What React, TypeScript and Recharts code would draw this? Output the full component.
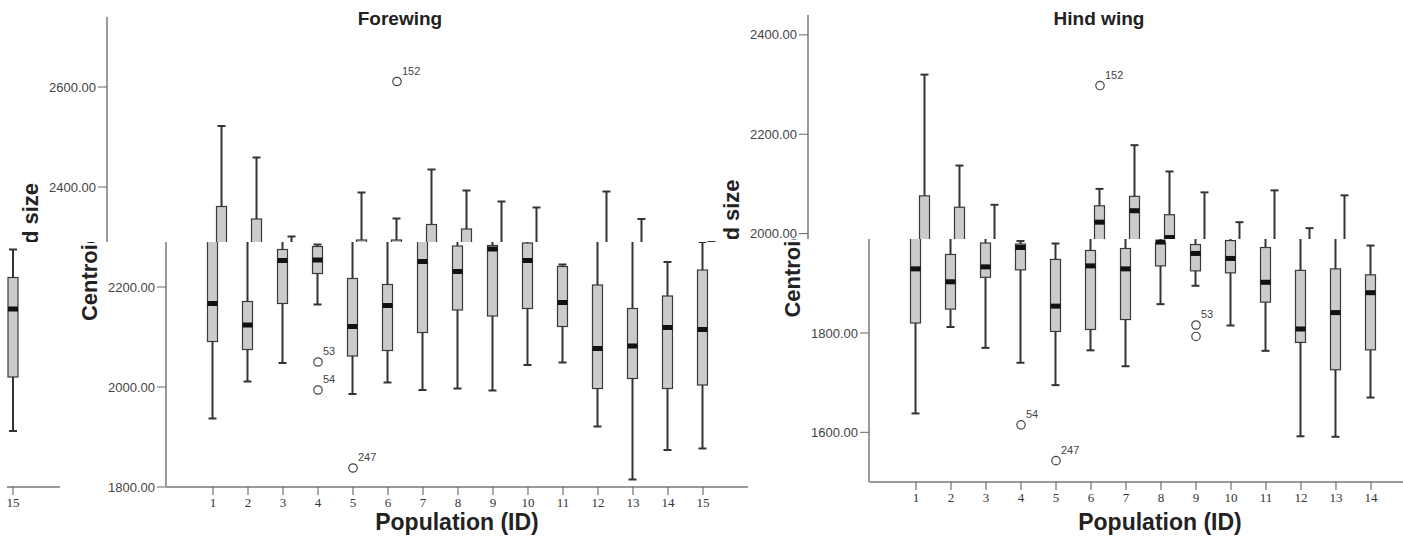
import { Bar, ComposedChart, Scatter, XAxis, YAxis } from "recharts";

const SANS = '"Liberation Sans", Arial, sans-serif';
const SERIF = '"Liberation Serif", "Times New Roman", serif';

const forePops = [1, 2, 3, 4, 5, 6, 7, 8, 9, 10, 11, 12, 13, 14, 15];
const foreHigh = [2522, 2459, 2301, 2285, 2389, 2337, 2435, 2393, 2371, 2359, 2245, 2391, 2336, 2250, 2290];
const foreQ3 = [2361, 2171, 2275, 2281, 2217, 2205, 2325, 2282, 2283, 2288, 2241, 2204, 2157, 2182, 2234];
const foreMedian = [2167, 2124, 2253, 2254, 2121, 2163, 2251, 2231, 2276, 2253, 2169, 2077, 2082, 2119, 2115];
const foreQ1 = [2091, 2075, 2167, 2227, 2062, 2073, 2109, 2154, 2142, 2157, 2121, 1997, 2017, 1997, 2004];
const foreLow = [1937, 2011, 2048, 2165, 1986, 2009, 1994, 1997, 1993, 2044, 2049, 1921, 1815, 1874, 1877];
// box tops as they show in the (shifted) upper strip of the scan
const foreTopQ3 = [2361, 2336, null, null, 2294, 2294, 2325, 2316, null, null, null, null, null, null, null];
const foreOutPop = [4, 4, 5, 6];
const foreOutValue = [2050, 1994, 1838, 2611];
const foreOutId = ["53", "54", "247", "152"];
const foreTicks = [1800, 2000, 2200, 2400, 2600];

// Hind wing
const hindPops = [1, 2, 3, 4, 5, 6, 7, 8, 9, 10, 11, 12, 13, 14];
const hindHigh = [2320, 2137, 2058, 1985, 1980, 2090, 2178, 2125, 2083, 2023, 2087, 2011, 2077, 1976];
const hindQ3 = [2076, 1958, 1981, 1979, 1948, 1966, 1970, 1981, 1978, 1986, 1972, 1926, 1929, 1917];
const hindMedian = [1929, 1903, 1933, 1972, 1854, 1935, 1929, 1983, 1960, 1950, 1902, 1808, 1841, 1881];
const hindQ1 = [1820, 1848, 1912, 1927, 1803, 1807, 1827, 1935, 1925, 1921, 1862, 1781, 1726, 1766];
const hindLow = [1638, 1812, 1770, 1740, 1695, 1765, 1733, 1858, 1895, 1815, 1764, 1592, 1591, 1670];
const hindTopQ3 = [2076, 2053, null, null, null, 2056, 2075, 2038, null, null, null, null, null, null];
const hindTopMedian = [null, null, null, null, null, 2023, 2046, 1992, null, null, null, null, null, null];
const hindOutPop = [4, 5, 6, 9, 9];
const hindOutValue = [1615, 1543, 2298, 1816, 1793];
const hindOutId = ["54", "247", "152", "53", ""];
const hindTicks = [1600, 1800, 2000, 2200, 2400];

// cut-off panel at the left edge, only its last box is visible
const edgePops = [15];
const edgeHigh = [2275];
const edgeQ3 = [2219];
const edgeMedian = [2156];
const edgeQ1 = [2020];
const edgeLow = [1912];

type Row = { pop: number; box: number[]; median: number; low: number; high: number };

function buildRows(
  pops: number[], high: number[], q3: number[], median: number[], q1: number[], low: number[],
  topQ3: (number | null)[] = [], topMedian: (number | null)[] = []
): Row[] {
  return pops.map((pop, i) => ({
    pop,
    box: [q1[i], topQ3[i] ?? q3[i]],
    median: topMedian[i] ?? median[i],
    low: low[i],
    high: high[i],
  }));
}

function buildOutliers(pops: number[], values: number[], ids: string[]) {
  return pops.map((pop, i) => ({ pop, value: values[i], id: ids[i] }));
}

function BoxShape(props: any) {
  const { x, y, width, height, payload } = props;
  if (!payload || height == null) return null;
  const [q1, q3] = payload.box;
  const top = Math.min(y, y + height);
  const h = Math.abs(height);
  const perUnit = h / (q3 - q1);
  const py = (v: number) => top + (q3 - v) * perUnit;
  const cx = x + width / 2;
  const cap = width * 0.4;
  const stroke = "#333";
  return (
    <g>
      <line x1={cx} x2={cx} y1={py(payload.high)} y2={top} stroke={stroke} strokeWidth={2} />
      <line x1={cx - cap} x2={cx + cap} y1={py(payload.high)} y2={py(payload.high)} stroke={stroke} strokeWidth={2} />
      <line x1={cx} x2={cx} y1={top + h} y2={py(payload.low)} stroke={stroke} strokeWidth={2} />
      <line x1={cx - cap} x2={cx + cap} y1={py(payload.low)} y2={py(payload.low)} stroke={stroke} strokeWidth={2} />
      <rect x={x} y={top} width={width} height={h} fill="#cbcbcb" stroke="#3a3a3a" strokeWidth={1.2} />
      <rect x={x} y={py(payload.median) - 2.5} width={width} height={5} fill="#111" />
    </g>
  );
}

function OutlierShape(props: any) {
  const { cx, cy, payload } = props;
  if (cx == null || cy == null) return null;
  return (
    <g>
      <circle cx={cx} cy={cy} r={4.2} fill="#fff" stroke="#444" strokeWidth={1.2} />
      <text x={cx + 5} y={cy - 7} fontSize={11} fill="#444" fontFamily={SANS}>
        {payload.id}
      </text>
    </g>
  );
}

interface LayerProps {
  rows: Row[];
  outliers: { pop: number; value: number; id: string }[];
  left: number;
  width: number;
  axisX: number;
  top: number;
  axisHeight: number;
  xDomain: [number, number];
  xTicks: number[];
  yDomain: [number, number];
  yTicks: number[];
  clip: string;
  edge?: boolean;
}

// one strip of the scan: the whole panel drawn, then clipped to its band
function Layer(p: LayerProps) {
  const yWidth = p.axisX - p.left;
  return (
    <div style={{ position: "absolute", left: p.left, top: 0, clipPath: p.clip }}>
      <ComposedChart
        width={p.width}
        height={543}
        data={p.rows}
        margin={{ top: p.top, right: 0, bottom: 0, left: p.edge ? yWidth : 0 }}
      >
        <XAxis
          type="number"
          dataKey="pop"
          domain={p.xDomain}
          ticks={p.xTicks}
          allowDataOverflow
          height={p.axisHeight}
          axisLine={{ stroke: "#9a9a9a", strokeWidth: 2 }}
          tickLine={{ stroke: "#555" }}
          tickSize={8}
          tickMargin={3}
          tick={{ fontSize: 13, fill: "#333", fontFamily: SERIF }}
          label={
            p.edge
              ? undefined
              : {
                  value: "Population (ID)",
                  position: "insideBottom",
                  offset: 13,
                  style: { fontSize: 23, fontWeight: "bold", fill: "#222" },
                }
          }
        />
        <YAxis
          hide={p.edge}
          width={yWidth}
          domain={p.yDomain}
          ticks={p.yTicks}
          allowDataOverflow
          tickFormatter={(v: number) => v.toFixed(2)}
          axisLine={{ stroke: "#9a9a9a", strokeWidth: 2 }}
          tickLine={{ stroke: "#666" }}
          tickSize={9}
          tickMargin={2}
          tick={{ fontSize: 13, fill: "#444" }}
          label={{
            value: "Centroid size",
            angle: -90,
            position: "insideLeft",
            offset: yWidth - 77,
            style: { textAnchor: "middle", fontSize: 22, fontWeight: "bold", fill: "#222" },
          }}
        />
        <Bar dataKey="box" barSize={10} shape={BoxShape} isAnimationActive={false} />
        <Scatter data={p.outliers} dataKey="value" shape={OutlierShape} isAnimationActive={false} />
      </ComposedChart>
    </div>
  );
}

const FORE_CUT = 242;
const HIND_CUT = 239;
const upper = (cut: number) => `inset(0 0 ${543 - cut}px 0)`;
const lower = (cut: number) => `inset(${cut}px 0 0 0)`;

export default function App() {
  const foreLowerRows = buildRows(forePops, foreHigh, foreQ3, foreMedian, foreQ1, foreLow);
  const foreUpperRows = buildRows(forePops, foreHigh, foreQ3, foreMedian, foreQ1, foreLow, foreTopQ3);
  const foreOut = buildOutliers(foreOutPop, foreOutValue, foreOutId);
  const hindLowerRows = buildRows(hindPops, hindHigh, hindQ3, hindMedian, hindQ1, hindLow);
  const hindUpperRows = buildRows(hindPops, hindHigh, hindQ3, hindMedian, hindQ1, hindLow, hindTopQ3, hindTopMedian);
  const hindOut = buildOutliers(hindOutPop, hindOutValue, hindOutId);
  const edgeRows = buildRows(edgePops, edgeHigh, edgeQ3, edgeMedian, edgeQ1, edgeLow);

  const titleStyle = {
    position: "absolute" as const,
    top: 8,
    width: 200,
    textAlign: "center" as const,
    fontSize: 19,
    fontWeight: "bold" as const,
    color: "#222",
  };

  return (
    <div
      style={{
        position: "absolute",
        left: 0,
        top: 0,
        width: 1403,
        height: 543,
        overflow: "hidden",
        background: "#fff",
        fontFamily: SANS,
      }}
    >
      {/* left edge: tail of a cut-off panel */}
      <Layer
        rows={edgeRows}
        outliers={[]}
        left={0}
        width={60}
        axisX={7}
        top={17}
        axisHeight={56}
        xDomain={[14.829, 16.343]}
        xTicks={edgePops}
        yDomain={[1800, 2740]}
        yTicks={foreTicks}
        clip={lower(FORE_CUT)}
        edge
      />

      {/* forewing */}
      <Layer
        rows={foreUpperRows}
        outliers={foreOut}
        left={0}
        width={748}
        axisX={107}
        top={17}
        axisHeight={56}
        xDomain={[-2.286, 16.029]}
        xTicks={forePops}
        yDomain={[1800, 2740]}
        yTicks={foreTicks}
        clip={upper(FORE_CUT)}
      />
      <Layer
        rows={foreLowerRows}
        outliers={foreOut}
        left={0}
        width={748}
        axisX={166}
        top={17}
        axisHeight={56}
        xDomain={[-0.343, 16.286]}
        xTicks={forePops}
        yDomain={[1800, 2740]}
        yTicks={foreTicks}
        clip={lower(FORE_CUT)}
      />
      <div style={{ ...titleStyle, left: 300 }}>Forewing</div>

      {/* hind wing */}
      <Layer
        rows={hindUpperRows}
        outliers={hindOut}
        left={700}
        width={751}
        axisX={808}
        top={15}
        axisHeight={61}
        xDomain={[-2.343, 16.029]}
        xTicks={hindPops}
        yDomain={[1500, 2440]}
        yTicks={hindTicks}
        clip={upper(HIND_CUT)}
      />
      <Layer
        rows={hindLowerRows}
        outliers={hindOut}
        left={700}
        width={751}
        axisX={869}
        top={15}
        axisHeight={61}
        xDomain={[-0.343, 16.286]}
        xTicks={hindPops}
        yDomain={[1500, 2440]}
        yTicks={hindTicks}
        clip={lower(HIND_CUT)}
      />
      <div style={{ ...titleStyle, left: 999 }}>Hind wing</div>
    </div>
  );
}
